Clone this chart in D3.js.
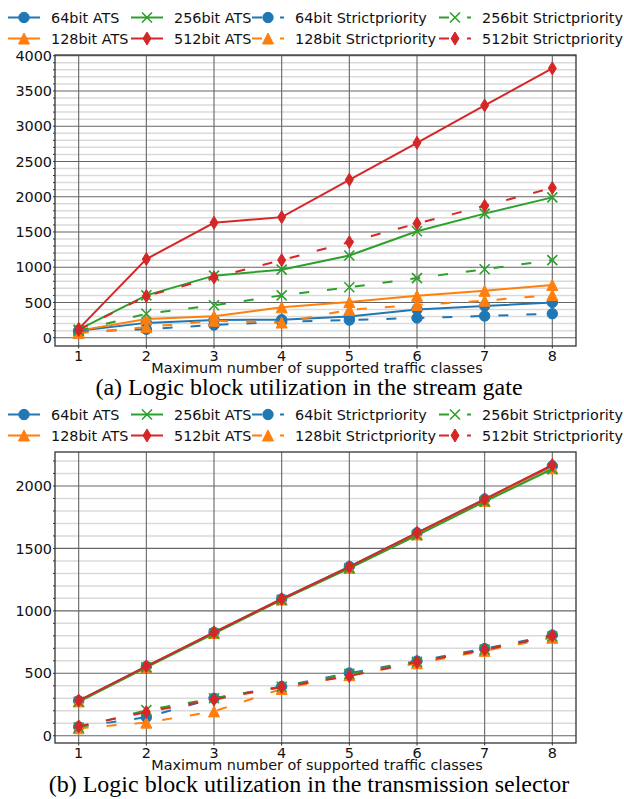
<!DOCTYPE html>
<html>
<head>
<meta charset="utf-8">
<script src="https://cdn.jsdelivr.net/npm/d3@7"></script>
<style>
  body { margin: 0; background: #fff; }
  text { font-family: "DejaVu Sans", sans-serif; }
  .caption { font-family: "Liberation Serif", "Times New Roman", serif; }
</style>
</head>
<body>
<svg id="chart" width="624" height="799"></svg>
<script>
// Maximum number of supported traffic classes
const trafficClasses = [1, 2, 3, 4, 5, 6, 7, 8];

// Series labels, in plotting order
const seriesNames = [
  "64bit ATS", "128bit ATS", "256bit ATS", "512bit ATS",
  "64bit Strictpriority", "128bit Strictpriority", "256bit Strictpriority", "512bit Strictpriority"
];

// (a) Logic blocks used by the stream gate
const gateAts64  = [100, 210, 250, 255, 300, 400, 450, 500];
const gateAts128 = [100, 265, 305, 430, 505, 595, 665, 748];
const gateAts256 = [115, 600, 880, 965, 1165, 1510, 1760, 1990];
const gateAts512 = [125, 1115, 1630, 1710, 2240, 2765, 3295, 3820];
const gateSp64   = [85, 120, 180, 225, 250, 280, 308, 340];
const gateSp128  = [65, 150, 240, 215, 395, 465, 525, 605];
const gateSp256  = [100, 340, 460, 600, 715, 845, 970, 1100];
const gateSp512  = [110, 590, 855, 1100, 1355, 1620, 1870, 2125];

// (b) Logic blocks used by the transmission selector
const selAts64  = [280, 555, 828, 1095, 1355, 1625, 1895, 2160];
const selAts128 = [275, 550, 822, 1090, 1345, 1612, 1880, 2142];
const selAts256 = [272, 548, 818, 1088, 1340, 1605, 1875, 2135];
const selAts512 = [282, 556, 828, 1095, 1352, 1625, 1893, 2168];
const selSp64   = [72, 148, 300, 395, 502, 598, 698, 806];
const selSp128  = [60, 105, 195, 375, 485, 580, 680, 785];
const selSp256  = [65, 205, 300, 392, 495, 592, 690, 795];
const selSp512  = [75, 190, 290, 390, 478, 590, 690, 800];

// Axis ticks
const xTicks = [1, 2, 3, 4, 5, 6, 7, 8];
const gateYTicks = [0, 500, 1000, 1500, 2000, 2500, 3000, 3500, 4000];
const selYTicks = [0, 500, 1000, 1500, 2000];

const xAxisLabel = "Maximum number of supported traffic classes";
const captionA = "(a) Logic block utilization in the stream gate";
const captionB = "(b) Logic block utilization in the transmission selector";

// ---------- styling ----------
const colors = ["#1f77b4", "#ff7f0e", "#2ca02c", "#d62728"];
const fontSize = 14.4;

const triangleUp = { draw(ctx, s) { const h = Math.sqrt(s) / 2;
  ctx.moveTo(0, -h); ctx.lineTo(h, h); ctx.lineTo(-h, h); ctx.closePath(); } };
const thinDiamond = { draw(ctx, s) { const h = Math.sqrt(s) / 2;
  ctx.moveTo(0, -h); ctx.lineTo(h * 0.62, 0); ctx.lineTo(0, h); ctx.lineTo(-h * 0.62, 0); ctx.closePath(); } };
const crossX = { draw(ctx, s) { const h = Math.sqrt(s) / 2;
  ctx.moveTo(-h, -h); ctx.lineTo(h, h); ctx.moveTo(h, -h); ctx.lineTo(-h, h); } };

// marker per bus width: 64 circle, 128 triangle, 256 x, 512 thin diamond
const markerDefs = [
  { type: d3.symbolCircle, size: Math.PI * 5.2 * 5.2, filled: true },
  { type: triangleUp, size: 11 * 11, filled: true },
  { type: crossX, size: 10 * 10, filled: false },
  { type: thinDiamond, size: 13 * 13, filled: true }
];

function styleOf(i) {
  return { color: colors[i % 4], marker: markerDefs[i % 4], dashed: i >= 4 };
}

const svg = d3.select("#chart");

function drawMarker(g, st, x, y) {
  const p = g.append("path")
    .attr("transform", `translate(${x},${y})`)
    .attr("d", d3.symbol().type(st.marker.type).size(st.marker.size)());
  if (st.marker.filled) {
    p.attr("fill", st.color).attr("stroke", st.color).attr("stroke-width", 1);
  } else {
    p.attr("fill", "none").attr("stroke", st.color).attr("stroke-width", 1.6);
  }
}

function drawLegend(g, top) {
  const colX = [8, 131, 252, 439];
  const rowY = [top, top + 21];
  seriesNames.forEach((name, i) => {
    const st = styleOf(i);
    const x0 = colX[Math.floor(i / 2)];
    const y0 = rowY[i % 2];
    g.append("line")
      .attr("x1", x0).attr("x2", x0 + 32).attr("y1", y0).attr("y2", y0)
      .attr("stroke", st.color).attr("stroke-width", 2)
      .attr("stroke-dasharray", st.dashed ? "10,18" : null);
    drawMarker(g, st, x0 + 16, y0);
    g.append("text")
      .attr("x", x0 + 43).attr("y", y0)
      .attr("dy", "0.36em")
      .attr("font-size", fontSize)
      .attr("fill", "#111")
      .text(name);
  });
}

function drawPanel(offsetY, seriesValues, yDomain, yTicks, caption) {
  const g = svg.append("g").attr("transform", `translate(0,${offsetY})`);
  const plot = { left: 55, right: 576, top: 55, bottom: 346 };

  const x = d3.scaleLinear().domain([0.65, 8.35]).range([plot.left, plot.right]);
  const y = d3.scaleLinear().domain(yDomain).range([plot.bottom, plot.top]);

  drawLegend(g, 17.5);

  // minor horizontal grid every 100
  const minor = d3.range(0, yDomain[1], 100).filter(v => v % 500 !== 0);
  g.append("g").selectAll("line").data(minor).join("line")
    .attr("x1", plot.left).attr("x2", plot.right)
    .attr("y1", d => y(d)).attr("y2", d => y(d))
    .attr("stroke", "#dadada").attr("stroke-width", 1.5);

  // major grid
  g.append("g").selectAll("line").data(yTicks).join("line")
    .attr("x1", plot.left).attr("x2", plot.right)
    .attr("y1", d => y(d)).attr("y2", d => y(d))
    .attr("stroke", "#666").attr("stroke-width", 1.1);
  g.append("g").selectAll("line").data(xTicks).join("line")
    .attr("x1", d => x(d)).attr("x2", d => x(d))
    .attr("y1", plot.top).attr("y2", plot.bottom)
    .attr("stroke", "#666").attr("stroke-width", 1.1);

  // series
  const line = d3.line().x((d, i) => x(trafficClasses[i])).y(d => y(d));
  seriesValues.forEach((vals, i) => {
    const st = styleOf(i);
    const sg = g.append("g");
    sg.append("path")
      .attr("d", line(vals))
      .attr("fill", "none")
      .attr("stroke", st.color)
      .attr("stroke-width", 2)
      .attr("stroke-dasharray", st.dashed ? "10,18" : null);
    vals.forEach((v, k) => drawMarker(sg, st, x(trafficClasses[k]), y(v)));
  });

  // ticks
  const allMinor = d3.range(0, yDomain[1], 100);
  g.append("g").selectAll("line").data(allMinor).join("line")
    .attr("x1", plot.left - 2).attr("x2", plot.left)
    .attr("y1", d => y(d)).attr("y2", d => y(d))
    .attr("stroke", "#333").attr("stroke-width", 1);
  g.append("g").selectAll("line").data(xTicks).join("line")
    .attr("x1", d => x(d)).attr("x2", d => x(d))
    .attr("y1", plot.bottom).attr("y2", plot.bottom + 2.5)
    .attr("stroke", "#333").attr("stroke-width", 1);

  // frame
  g.append("rect")
    .attr("x", plot.left).attr("y", plot.top)
    .attr("width", plot.right - plot.left).attr("height", plot.bottom - plot.top)
    .attr("fill", "none").attr("stroke", "#333").attr("stroke-width", 1.3);

  // tick labels
  g.append("g").selectAll("text").data(yTicks).join("text")
    .attr("x", plot.left - 3).attr("y", d => y(d)).attr("dy", "0.36em")
    .attr("text-anchor", "end").attr("font-size", fontSize).attr("fill", "#111")
    .text(d => d);
  g.append("g").selectAll("text").data(xTicks).join("text")
    .attr("x", d => x(d)).attr("y", plot.bottom + 14.5)
    .attr("text-anchor", "middle").attr("font-size", fontSize).attr("fill", "#111")
    .text(d => d);

  g.append("text")
    .attr("x", 317).attr("y", plot.bottom + 27)
    .attr("text-anchor", "middle").attr("font-size", fontSize).attr("fill", "#111")
    .text(xAxisLabel);

  g.append("text").attr("class", "caption")
    .attr("x", 309).attr("y", plot.bottom + 48.5)
    .attr("text-anchor", "middle").attr("font-size", 24).attr("fill", "#000")
    .text(caption);
}

drawPanel(0,
  [gateAts64, gateAts128, gateAts256, gateAts512, gateSp64, gateSp128, gateSp256, gateSp512],
  [-118, 4010], gateYTicks, captionA);

drawPanel(397,
  [selAts64, selAts128, selAts256, selAts512, selSp64, selSp128, selSp256, selSp512],
  [-58, 2272], selYTicks, captionB);
</script>
</body>
</html>
